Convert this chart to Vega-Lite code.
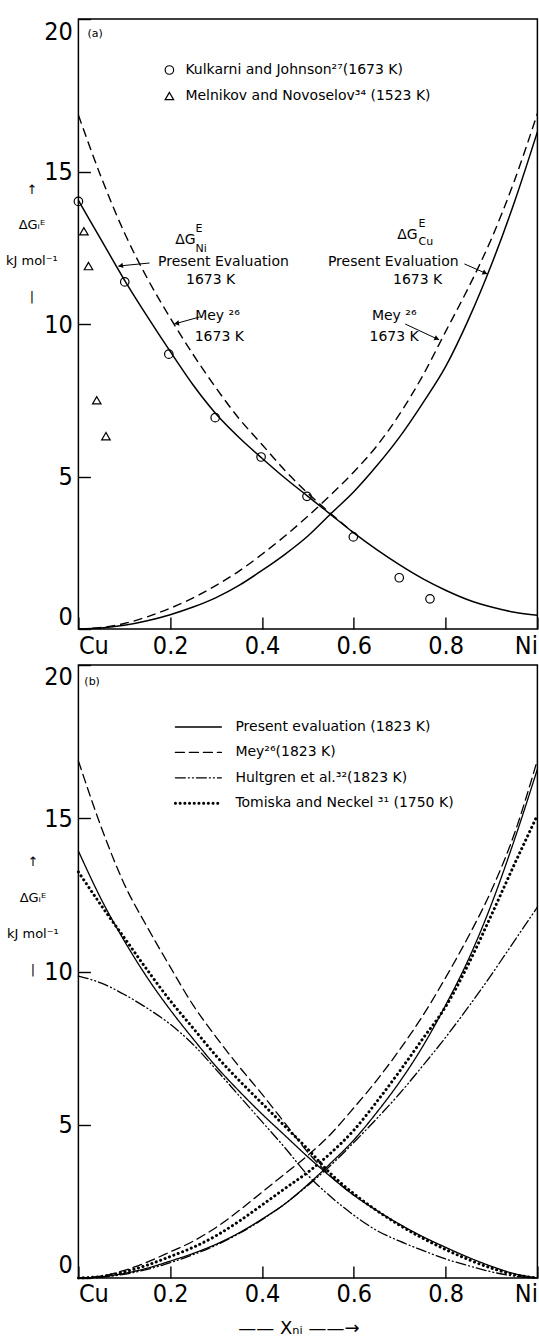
{
"$schema": "https://vega.github.io/schema/vega-lite/v6.json",
"autosize": {"type": "pad"},
"padding": {"left": 4.4, "top": 17, "right": 0, "bottom": 0},
"background": "white",
"bounds": "flush",
"spacing": 36,
"resolve": {"scale": {"x": "independent", "y": "independent", "strokeDash": "independent", "shape": "independent"}},
"config": {
  "view": {"stroke": "black", "strokeWidth": 1.5},
  "axis": {"domain": false, "grid": false, "ticks": true, "tickColor": "black", "tickWidth": 1.4, "tickSize": 12, "offset": -12, "labelColor": "black", "labelFont": "Liberation Sans Narrow, DejaVu Sans Condensed, Liberation Sans", "labelFontSize": 25, "titleColor": "black", "zindex": 1},
  "text": {"font": "DejaVu Sans", "color": "black"}
},
"datasets": {
  "curvesA": [
    {"x":0,"g":14.05,"s":"P","c":"Ni"},{"x":0.05,"g":12.75,"s":"P","c":"Ni"},{"x":0.1,"g":11.45,"s":"P","c":"Ni"},{"x":0.15,"g":10.25,"s":"P","c":"Ni"},{"x":0.2,"g":9.1,"s":"P","c":"Ni"},{"x":0.25,"g":8.0,"s":"P","c":"Ni"},{"x":0.3,"g":7.05,"s":"P","c":"Ni"},{"x":0.35,"g":6.28,"s":"P","c":"Ni"},{"x":0.4,"g":5.6,"s":"P","c":"Ni"},{"x":0.45,"g":4.95,"s":"P","c":"Ni"},{"x":0.5,"g":4.35,"s":"P","c":"Ni"},{"x":0.55,"g":3.75,"s":"P","c":"Ni"},{"x":0.6,"g":3.15,"s":"P","c":"Ni"},{"x":0.65,"g":2.6,"s":"P","c":"Ni"},{"x":0.7,"g":2.1,"s":"P","c":"Ni"},{"x":0.75,"g":1.65,"s":"P","c":"Ni"},{"x":0.8,"g":1.27,"s":"P","c":"Ni"},{"x":0.85,"g":0.95,"s":"P","c":"Ni"},{"x":0.9,"g":0.72,"s":"P","c":"Ni"},{"x":0.95,"g":0.55,"s":"P","c":"Ni"},{"x":1,"g":0.45,"s":"P","c":"Ni"},
    {"x":0,"g":0,"s":"P","c":"Cu"},{"x":0.05,"g":0.03,"s":"P","c":"Cu"},{"x":0.1,"g":0.12,"s":"P","c":"Cu"},{"x":0.15,"g":0.27,"s":"P","c":"Cu"},{"x":0.2,"g":0.47,"s":"P","c":"Cu"},{"x":0.25,"g":0.72,"s":"P","c":"Cu"},{"x":0.3,"g":1.03,"s":"P","c":"Cu"},{"x":0.35,"g":1.43,"s":"P","c":"Cu"},{"x":0.4,"g":1.92,"s":"P","c":"Cu"},{"x":0.45,"g":2.45,"s":"P","c":"Cu"},{"x":0.5,"g":3.05,"s":"P","c":"Cu"},{"x":0.55,"g":3.78,"s":"P","c":"Cu"},{"x":0.6,"g":4.5,"s":"P","c":"Cu"},{"x":0.65,"g":5.35,"s":"P","c":"Cu"},{"x":0.7,"g":6.3,"s":"P","c":"Cu"},{"x":0.75,"g":7.4,"s":"P","c":"Cu"},{"x":0.8,"g":8.6,"s":"P","c":"Cu"},{"x":0.85,"g":10.15,"s":"P","c":"Cu"},{"x":0.9,"g":11.95,"s":"P","c":"Cu"},{"x":0.95,"g":14.0,"s":"P","c":"Cu"},{"x":1,"g":16.3,"s":"P","c":"Cu"},
    {"x":0,"g":16.85,"s":"M","c":"Ni"},{"x":0.05,"g":14.8,"s":"M","c":"Ni"},{"x":0.1,"g":13.0,"s":"M","c":"Ni"},{"x":0.15,"g":11.5,"s":"M","c":"Ni"},{"x":0.2,"g":10.2,"s":"M","c":"Ni"},{"x":0.25,"g":9.0,"s":"M","c":"Ni"},{"x":0.3,"g":7.9,"s":"M","c":"Ni"},{"x":0.35,"g":6.9,"s":"M","c":"Ni"},{"x":0.4,"g":6.05,"s":"M","c":"Ni"},{"x":0.45,"g":5.2,"s":"M","c":"Ni"},{"x":0.5,"g":4.45,"s":"M","c":"Ni"},{"x":0.55,"g":3.78,"s":"M","c":"Ni"},{"x":0.6,"g":3.15,"s":"M","c":"Ni"},
    {"x":0,"g":0,"s":"M","c":"Cu"},{"x":0.05,"g":0.05,"s":"M","c":"Cu"},{"x":0.1,"g":0.18,"s":"M","c":"Cu"},{"x":0.15,"g":0.4,"s":"M","c":"Cu"},{"x":0.2,"g":0.68,"s":"M","c":"Cu"},{"x":0.25,"g":1.02,"s":"M","c":"Cu"},{"x":0.3,"g":1.43,"s":"M","c":"Cu"},{"x":0.35,"g":1.9,"s":"M","c":"Cu"},{"x":0.4,"g":2.45,"s":"M","c":"Cu"},{"x":0.45,"g":3.05,"s":"M","c":"Cu"},{"x":0.5,"g":3.7,"s":"M","c":"Cu"},{"x":0.55,"g":4.4,"s":"M","c":"Cu"},{"x":0.6,"g":5.15,"s":"M","c":"Cu"},{"x":0.65,"g":6.0,"s":"M","c":"Cu"},{"x":0.7,"g":7.05,"s":"M","c":"Cu"},{"x":0.75,"g":8.3,"s":"M","c":"Cu"},{"x":0.8,"g":9.75,"s":"M","c":"Cu"},{"x":0.85,"g":11.2,"s":"M","c":"Cu"},{"x":0.9,"g":12.8,"s":"M","c":"Cu"},{"x":0.95,"g":14.7,"s":"M","c":"Cu"},{"x":1,"g":16.9,"s":"M","c":"Cu"}
  ],
  "ptsA": [
    {"x":0,"g":14.02,"src":"Kulkarni and Johnson²⁷(1673 K)"},{"x":0.101,"g":11.38,"src":"Kulkarni and Johnson²⁷(1673 K)"},{"x":0.197,"g":9.01,"src":"Kulkarni and Johnson²⁷(1673 K)"},{"x":0.298,"g":6.93,"src":"Kulkarni and Johnson²⁷(1673 K)"},{"x":0.398,"g":5.64,"src":"Kulkarni and Johnson²⁷(1673 K)"},{"x":0.498,"g":4.35,"src":"Kulkarni and Johnson²⁷(1673 K)"},{"x":0.599,"g":3.02,"src":"Kulkarni and Johnson²⁷(1673 K)"},{"x":0.699,"g":1.68,"src":"Kulkarni and Johnson²⁷(1673 K)"},{"x":0.766,"g":0.99,"src":"Kulkarni and Johnson²⁷(1673 K)"},
    {"x":0.012,"g":13.04,"src":"Melnikov and Novoselov³⁴ (1523 K)"},{"x":0.022,"g":11.9,"src":"Melnikov and Novoselov³⁴ (1523 K)"},{"x":0.04,"g":7.5,"src":"Melnikov and Novoselov³⁴ (1523 K)"},{"x":0.06,"g":6.32,"src":"Melnikov and Novoselov³⁴ (1523 K)"}
  ],
  "txtA": [
    {"x":0.233,"g":12.75,"t":"ΔG"},{"x":0.316,"g":12.03,"t":"Present Evaluation"},{"x":0.288,"g":11.44,"t":"1673 K"},
    {"x":0.717,"g":12.92,"t":"ΔG"},{"x":0.686,"g":12.03,"t":"Present Evaluation"},{"x":0.739,"g":11.44,"t":"1673 K"},
    {"x":0.303,"g":10.26,"t":"Mey ²⁶"},{"x":0.307,"g":9.57,"t":"1673 K"},
    {"x":0.688,"g":10.26,"t":"Mey ²⁶"},{"x":0.688,"g":9.57,"t":"1673 K"}
  ],
  "smA": [
    {"x":0.255,"g":13.1,"t":"E"},{"x":0.255,"g":12.45,"t":"Ni"},{"x":0.741,"g":13.28,"t":"E"},{"x":0.741,"g":12.7,"t":"Cu"},{"x":0.02,"g":19.5,"t":"(a)"}
  ],
  "arrA": [
    {"x":0.155,"g":12.0,"x2":0.087,"g2":11.9},{"x":0.264,"g":10.23,"x2":0.209,"g2":10.0},{"x":0.841,"g":11.97,"x2":0.891,"g2":11.64},{"x":0.712,"g":10.0,"x2":0.786,"g2":9.48}
  ],
  "headA": [
    {"x":0.092,"g":11.91,"d":"L"},{"x":0.214,"g":10.02,"d":"L"},{"x":0.886,"g":11.67,"d":"R"},{"x":0.781,"g":9.52,"d":"R"}
  ],
  "curvesB": [
    {"x":0,"g":13.93,"s":"P","c":"Ni"},{"x":0.05,"g":12.35,"s":"P","c":"Ni"},{"x":0.1,"g":11.0,"s":"P","c":"Ni"},{"x":0.15,"g":9.8,"s":"P","c":"Ni"},{"x":0.2,"g":8.75,"s":"P","c":"Ni"},{"x":0.25,"g":7.8,"s":"P","c":"Ni"},{"x":0.3,"g":6.9,"s":"P","c":"Ni"},{"x":0.35,"g":6.1,"s":"P","c":"Ni"},{"x":0.4,"g":5.35,"s":"P","c":"Ni"},{"x":0.45,"g":4.65,"s":"P","c":"Ni"},{"x":0.5,"g":3.95,"s":"P","c":"Ni"},{"x":0.55,"g":3.3,"s":"P","c":"Ni"},{"x":0.6,"g":2.7,"s":"P","c":"Ni"},{"x":0.65,"g":2.2,"s":"P","c":"Ni"},{"x":0.7,"g":1.75,"s":"P","c":"Ni"},{"x":0.75,"g":1.35,"s":"P","c":"Ni"},{"x":0.8,"g":1.0,"s":"P","c":"Ni"},{"x":0.85,"g":0.67,"s":"P","c":"Ni"},{"x":0.9,"g":0.38,"s":"P","c":"Ni"},{"x":0.95,"g":0.14,"s":"P","c":"Ni"},{"x":1,"g":0,"s":"P","c":"Ni"},
    {"x":0,"g":0,"s":"P","c":"Cu"},{"x":0.05,"g":0.04,"s":"P","c":"Cu"},{"x":0.1,"g":0.15,"s":"P","c":"Cu"},{"x":0.15,"g":0.32,"s":"P","c":"Cu"},{"x":0.2,"g":0.55,"s":"P","c":"Cu"},{"x":0.25,"g":0.8,"s":"P","c":"Cu"},{"x":0.3,"g":1.1,"s":"P","c":"Cu"},{"x":0.35,"g":1.47,"s":"P","c":"Cu"},{"x":0.4,"g":1.92,"s":"P","c":"Cu"},{"x":0.45,"g":2.42,"s":"P","c":"Cu"},{"x":0.5,"g":3.05,"s":"P","c":"Cu"},{"x":0.55,"g":3.75,"s":"P","c":"Cu"},{"x":0.6,"g":4.5,"s":"P","c":"Cu"},{"x":0.65,"g":5.4,"s":"P","c":"Cu"},{"x":0.7,"g":6.4,"s":"P","c":"Cu"},{"x":0.75,"g":7.55,"s":"P","c":"Cu"},{"x":0.8,"g":8.9,"s":"P","c":"Cu"},{"x":0.85,"g":10.4,"s":"P","c":"Cu"},{"x":0.9,"g":12.2,"s":"P","c":"Cu"},{"x":0.95,"g":14.3,"s":"P","c":"Cu"},{"x":1,"g":16.6,"s":"P","c":"Cu"},
    {"x":0,"g":16.87,"s":"M","c":"Ni"},{"x":0.05,"g":14.7,"s":"M","c":"Ni"},{"x":0.1,"g":12.85,"s":"M","c":"Ni"},{"x":0.15,"g":11.45,"s":"M","c":"Ni"},{"x":0.2,"g":10.15,"s":"M","c":"Ni"},{"x":0.25,"g":8.9,"s":"M","c":"Ni"},{"x":0.3,"g":7.86,"s":"M","c":"Ni"},{"x":0.35,"g":6.9,"s":"M","c":"Ni"},{"x":0.4,"g":6.0,"s":"M","c":"Ni"},{"x":0.45,"g":5.05,"s":"M","c":"Ni"},{"x":0.5,"g":4.1,"s":"M","c":"Ni"},{"x":0.55,"g":3.32,"s":"M","c":"Ni"},{"x":0.6,"g":2.7,"s":"M","c":"Ni"},
    {"x":0,"g":0,"s":"M","c":"Cu"},{"x":0.05,"g":0.06,"s":"M","c":"Cu"},{"x":0.1,"g":0.25,"s":"M","c":"Cu"},{"x":0.15,"g":0.52,"s":"M","c":"Cu"},{"x":0.2,"g":0.85,"s":"M","c":"Cu"},{"x":0.25,"g":1.2,"s":"M","c":"Cu"},{"x":0.3,"g":1.65,"s":"M","c":"Cu"},{"x":0.35,"g":2.2,"s":"M","c":"Cu"},{"x":0.4,"g":2.8,"s":"M","c":"Cu"},{"x":0.45,"g":3.4,"s":"M","c":"Cu"},{"x":0.5,"g":4.0,"s":"M","c":"Cu"},{"x":0.55,"g":4.7,"s":"M","c":"Cu"},{"x":0.6,"g":5.55,"s":"M","c":"Cu"},{"x":0.65,"g":6.45,"s":"M","c":"Cu"},{"x":0.7,"g":7.45,"s":"M","c":"Cu"},{"x":0.75,"g":8.55,"s":"M","c":"Cu"},{"x":0.8,"g":9.8,"s":"M","c":"Cu"},{"x":0.85,"g":11.15,"s":"M","c":"Cu"},{"x":0.9,"g":12.65,"s":"M","c":"Cu"},{"x":0.95,"g":14.5,"s":"M","c":"Cu"},{"x":1,"g":16.9,"s":"M","c":"Cu"},
    {"x":0,"g":9.85,"s":"H","c":"Ni"},{"x":0.05,"g":9.62,"s":"H","c":"Ni"},{"x":0.1,"g":9.25,"s":"H","c":"Ni"},{"x":0.15,"g":8.8,"s":"H","c":"Ni"},{"x":0.2,"g":8.28,"s":"H","c":"Ni"},{"x":0.25,"g":7.62,"s":"H","c":"Ni"},{"x":0.3,"g":6.8,"s":"H","c":"Ni"},{"x":0.35,"g":5.95,"s":"H","c":"Ni"},{"x":0.4,"g":5.1,"s":"H","c":"Ni"},{"x":0.45,"g":4.25,"s":"H","c":"Ni"},{"x":0.5,"g":3.35,"s":"H","c":"Ni"},{"x":0.55,"g":2.65,"s":"H","c":"Ni"},{"x":0.6,"g":2.05,"s":"H","c":"Ni"},{"x":0.65,"g":1.55,"s":"H","c":"Ni"},{"x":0.7,"g":1.2,"s":"H","c":"Ni"},{"x":0.75,"g":0.9,"s":"H","c":"Ni"},{"x":0.8,"g":0.62,"s":"H","c":"Ni"},{"x":0.85,"g":0.4,"s":"H","c":"Ni"},{"x":0.9,"g":0.2,"s":"H","c":"Ni"},{"x":0.95,"g":0.06,"s":"H","c":"Ni"},{"x":1,"g":0,"s":"H","c":"Ni"},
    {"x":0,"g":0,"s":"H","c":"Cu"},{"x":0.05,"g":0.03,"s":"H","c":"Cu"},{"x":0.1,"g":0.12,"s":"H","c":"Cu"},{"x":0.15,"g":0.28,"s":"H","c":"Cu"},{"x":0.2,"g":0.5,"s":"H","c":"Cu"},{"x":0.25,"g":0.76,"s":"H","c":"Cu"},{"x":0.3,"g":1.07,"s":"H","c":"Cu"},{"x":0.35,"g":1.45,"s":"H","c":"Cu"},{"x":0.4,"g":1.9,"s":"H","c":"Cu"},{"x":0.45,"g":2.42,"s":"H","c":"Cu"},{"x":0.5,"g":3.02,"s":"H","c":"Cu"},{"x":0.55,"g":3.68,"s":"H","c":"Cu"},{"x":0.6,"g":4.42,"s":"H","c":"Cu"},{"x":0.65,"g":5.2,"s":"H","c":"Cu"},{"x":0.7,"g":6.02,"s":"H","c":"Cu"},{"x":0.75,"g":6.92,"s":"H","c":"Cu"},{"x":0.8,"g":7.85,"s":"H","c":"Cu"},{"x":0.85,"g":8.85,"s":"H","c":"Cu"},{"x":0.9,"g":9.9,"s":"H","c":"Cu"},{"x":0.95,"g":11.0,"s":"H","c":"Cu"},{"x":1,"g":12.1,"s":"H","c":"Cu"},
    {"x":0,"g":13.25,"s":"T","c":"Ni"},{"x":0.05,"g":12.15,"s":"T","c":"Ni"},{"x":0.1,"g":11.1,"s":"T","c":"Ni"},{"x":0.15,"g":10.05,"s":"T","c":"Ni"},{"x":0.2,"g":9.05,"s":"T","c":"Ni"},{"x":0.25,"g":8.15,"s":"T","c":"Ni"},{"x":0.3,"g":7.25,"s":"T","c":"Ni"},{"x":0.35,"g":6.45,"s":"T","c":"Ni"},{"x":0.4,"g":5.7,"s":"T","c":"Ni"},{"x":0.45,"g":4.95,"s":"T","c":"Ni"},{"x":0.5,"g":4.2,"s":"T","c":"Ni"},{"x":0.55,"g":3.4,"s":"T","c":"Ni"},{"x":0.6,"g":2.75,"s":"T","c":"Ni"},{"x":0.65,"g":2.2,"s":"T","c":"Ni"},{"x":0.7,"g":1.72,"s":"T","c":"Ni"},{"x":0.75,"g":1.3,"s":"T","c":"Ni"},{"x":0.8,"g":0.93,"s":"T","c":"Ni"},{"x":0.85,"g":0.6,"s":"T","c":"Ni"},{"x":0.9,"g":0.32,"s":"T","c":"Ni"},{"x":0.95,"g":0.11,"s":"T","c":"Ni"},{"x":1,"g":0,"s":"T","c":"Ni"},
    {"x":0,"g":0,"s":"T","c":"Cu"},{"x":0.05,"g":0.05,"s":"T","c":"Cu"},{"x":0.1,"g":0.2,"s":"T","c":"Cu"},{"x":0.15,"g":0.42,"s":"T","c":"Cu"},{"x":0.2,"g":0.7,"s":"T","c":"Cu"},{"x":0.25,"g":1.0,"s":"T","c":"Cu"},{"x":0.3,"g":1.38,"s":"T","c":"Cu"},{"x":0.35,"g":1.85,"s":"T","c":"Cu"},{"x":0.4,"g":2.38,"s":"T","c":"Cu"},{"x":0.45,"g":2.92,"s":"T","c":"Cu"},{"x":0.5,"g":3.45,"s":"T","c":"Cu"},{"x":0.55,"g":4.08,"s":"T","c":"Cu"},{"x":0.6,"g":4.82,"s":"T","c":"Cu"},{"x":0.65,"g":5.75,"s":"T","c":"Cu"},{"x":0.7,"g":6.75,"s":"T","c":"Cu"},{"x":0.75,"g":7.8,"s":"T","c":"Cu"},{"x":0.8,"g":8.85,"s":"T","c":"Cu"},{"x":0.85,"g":10.25,"s":"T","c":"Cu"},{"x":0.9,"g":11.85,"s":"T","c":"Cu"},{"x":0.95,"g":13.5,"s":"T","c":"Cu"},{"x":1,"g":15.1,"s":"T","c":"Cu"}
  ],
  "smB": [{"x":0.013,"g":19.45,"t":"(b)"}]
},
"vconcat": [
  {
    "width": 459, "height": 610,
    "encoding": {
      "x": {"field": "x", "type": "quantitative", "scale": {"domain": [0, 1], "nice": false, "zero": false},
        "axis": {"values": [0, 0.2, 0.4, 0.6, 0.8, 1], "labelExpr": "datum.value==0?'Cu':datum.value==1?'Ni':format(datum.value,'.1f')", "title": null, "labelPadding": 4}},
      "y": {"field": "g", "type": "quantitative", "scale": {"domain": [0, 20], "nice": false, "zero": true},
        "axis": {"values": [0, 5, 10, 15, 20], "labelFlush": true, "labelPadding": 6,
          "title": ["↑", "ΔGᵢᴱ", "kJ mol⁻¹", "|"], "titleAngle": 0, "titleX": -59, "titleY": 170, "titleAlign": "center", "titleBaseline": "middle", "titleFont": "DejaVu Sans", "titleFontSize": 13, "titleFontWeight": "normal", "titleLineHeight": 36}}
    },
    "layer": [
      {"data": {"name": "curvesA"}, "transform": [{"filter": "datum.s=='P'"}],
       "mark": {"type": "line", "color": "black", "strokeWidth": 1.5, "interpolate": "monotone"},
       "encoding": {"detail": {"field": "c", "type": "nominal"}}},
      {"data": {"name": "curvesA"}, "transform": [{"filter": "datum.s=='M'"}],
       "mark": {"type": "line", "color": "black", "strokeWidth": 1.4, "strokeDash": [9, 5], "interpolate": "monotone"},
       "encoding": {"detail": {"field": "c", "type": "nominal"}}},
      {"data": {"name": "ptsA"},
       "mark": {"type": "point", "filled": false, "color": "black", "size": 72, "strokeWidth": 1.2, "opacity": 1},
       "encoding": {"shape": {"field": "src", "type": "nominal",
         "scale": {"domain": ["Kulkarni and Johnson²⁷(1673 K)", "Melnikov and Novoselov³⁴ (1523 K)"], "range": ["circle", "triangle-up"]},
         "legend": {"orient": "none", "legendX": 84, "legendY": 44, "title": null, "padding": 0, "labelFont": "DejaVu Sans", "labelFontSize": 14, "labelColor": "black", "labelOffset": 9, "labelLimit": 400, "rowPadding": 12, "symbolSize": 72, "symbolStrokeColor": "black", "symbolStrokeWidth": 1.2, "symbolFillColor": "transparent"}}}},
      {"data": {"name": "txtA"},
       "mark": {"type": "text", "fontSize": 14, "font": "DejaVu Sans", "align": "center", "baseline": "middle", "color": "black"},
       "encoding": {"text": {"field": "t", "type": "nominal"}}},
      {"data": {"name": "smA"},
       "mark": {"type": "text", "fontSize": 11, "font": "DejaVu Sans", "align": "left", "baseline": "middle", "color": "black"},
       "encoding": {"text": {"field": "t", "type": "nominal"}}},
      {"data": {"name": "arrA"},
       "mark": {"type": "rule", "color": "black", "strokeWidth": 1},
       "encoding": {"x2": {"field": "x2"}, "y2": {"field": "g2"}}},
      {"data": {"name": "headA"}, "transform": [{"filter": "datum.d=='L'"}],
       "mark": {"type": "point", "shape": "triangle-left", "filled": true, "color": "black", "size": 30, "angle": -10, "opacity": 1},
       "encoding": {}},
      {"data": {"name": "headA"}, "transform": [{"filter": "datum.d=='R'"}],
       "mark": {"type": "point", "shape": "triangle-right", "filled": true, "color": "black", "size": 30, "angle": 24, "opacity": 1},
       "encoding": {}}
    ]
  },
  {
    "width": 459, "height": 613,
    "encoding": {
      "x": {"field": "x", "type": "quantitative", "scale": {"domain": [0, 1], "nice": false, "zero": false},
        "axis": {"values": [0, 0.2, 0.4, 0.6, 0.8, 1], "labelExpr": "datum.value==0?'Cu':datum.value==1?'Ni':format(datum.value,'.1f')", "labelPadding": 4,
          "title": "—— Xₙᵢ ——→", "titleFont": "DejaVu Sans", "titleFontSize": 18, "titleFontWeight": "normal", "titleX": 220, "titleY": 63, "titleBaseline": "middle", "titleAlign": "center"}},
      "y": {"field": "g", "type": "quantitative", "scale": {"domain": [0, 20], "nice": false, "zero": true},
        "axis": {"values": [0, 5, 10, 15, 20], "labelFlush": true, "labelPadding": 6,
          "title": ["↑", "ΔGᵢᴱ", "kJ mol⁻¹", "|"], "titleAngle": 0, "titleX": -58, "titleY": 197, "titleAlign": "center", "titleBaseline": "middle", "titleFont": "DejaVu Sans", "titleFontSize": 13, "titleFontWeight": "normal", "titleLineHeight": 36}}
    },
    "layer": [
      {"data": {"name": "curvesB"}, "transform": [{"filter": "datum.s!='T'"}],
       "mark": {"type": "line", "color": "black", "strokeWidth": 1.3, "interpolate": "monotone", "strokeCap": "round"},
       "encoding": {"detail": {"field": "c", "type": "nominal"},
         "strokeDash": {"field": "s", "type": "nominal",
           "scale": {"domain": ["P", "M", "H", "T"], "range": [[1, 0], [9, 5], [10, 3, 1, 3, 1, 3], [0.1, 4.6]]},
           "legend": {"orient": "none", "legendX": 113, "legendY": 55, "title": null, "padding": 0, "symbolType": "stroke", "symbolSize": 2116, "symbolStrokeColor": "black",
             "labelFont": "DejaVu Sans", "labelFontSize": 14, "labelColor": "black", "labelOffset": 30, "labelLimit": 400, "rowPadding": 11.4,
             "labelExpr": "datum.label=='P'?'Present evaluation (1823 K)':datum.label=='M'?'Mey²⁶(1823 K)':datum.label=='H'?'Hultgren et al.³²(1823 K)':'Tomiska and Neckel ³¹ (1750 K)'",
             "encode": {"symbols": {"update": {"strokeWidth": {"signal": "datum.value==='T'?3:1.3"}, "strokeCap": {"value": "round"}}}}}}}},
      {"data": {"name": "curvesB"}, "transform": [{"filter": "datum.s=='T'"}],
       "mark": {"type": "line", "color": "black", "strokeWidth": 3, "interpolate": "monotone", "strokeCap": "round"},
       "encoding": {"detail": {"field": "c", "type": "nominal"},
         "strokeDash": {"field": "s", "type": "nominal"}}},
      {"data": {"name": "smB"},
       "mark": {"type": "text", "fontSize": 11, "font": "DejaVu Sans", "align": "left", "baseline": "middle", "color": "black"},
       "encoding": {"text": {"field": "t", "type": "nominal"}}}
    ]
  }
]
}
